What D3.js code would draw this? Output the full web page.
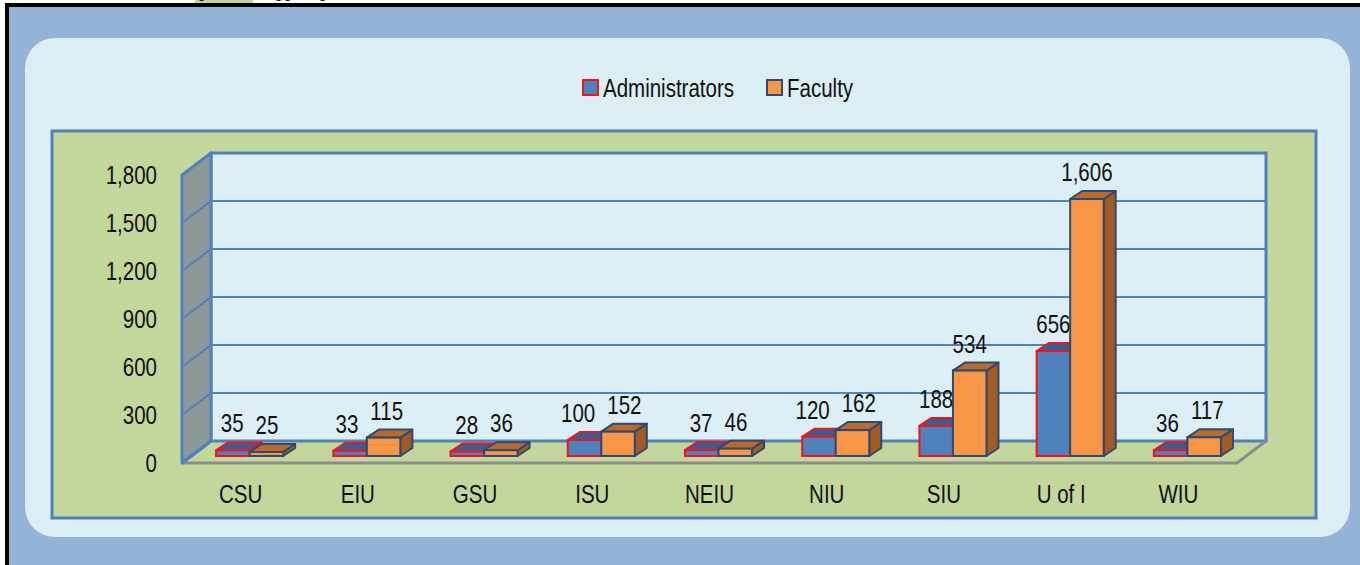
<!DOCTYPE html>
<html>
<head>
<meta charset="utf-8">
<script src="https://cdn.jsdelivr.net/npm/d3@7"></script>
<style>
  body { margin: 0; background: #fff; }
  svg text { font-family: "Liberation Sans Narrow", "Liberation Sans", Arial, sans-serif; fill: #111; }
</style>
</head>
<body>
<script>
const categories = ['CSU', 'EIU', 'GSU', 'ISU', 'NEIU', 'NIU', 'SIU', 'U of I', 'WIU'];
const series = ['Administrators', 'Faculty'];
const administrators = [35, 33, 28, 100, 37, 120, 188, 656, 36];
const faculty = [25, 115, 36, 152, 46, 162, 534, 1606, 117];
const yTicks = [0, 300, 600, 900, 1200, 1500, 1800];

const width = 1360;
const height = 565;

// floor / walls geometry (front edge and 3d depth offset)
const plot = { left: 182, right: 1237, bottom: 463, top: 175 };
const depth = { dx: 29, dy: 22 };
const bar = { shiftX: 9, shiftY: 7, dx: 12, dy: 8 };
const narrow = 0.82;

const colors = {
  Administrators: { front: '#4F81BD', top: '#3A5E8E', side: '#2E4B72', stroke: '#F0141E' },
  Faculty: { front: '#F79646', top: '#B96A30', side: '#A25B26', stroke: '#2F4A6E' },
};

const svg = d3.select('body').append('svg')
  .attr('width', width)
  .attr('height', height);

// page background and frame
svg.append('rect').attr('x', 5).attr('y', 3).attr('width', width - 5).attr('height', height - 3)
  .attr('fill', '#95B3D7');
svg.append('rect').attr('x', 195).attr('y', 0).attr('width', 58).attr('height', 3).attr('fill', '#C3D69B');
[[197, 'g'], [274, 'gg'], [318, 'g']].forEach(([x, t]) => {
  svg.append('text').attr('x', x).attr('y', -3).style('font-size', '20px').text(t);
});
svg.append('rect').attr('x', 5).attr('y', 3).attr('width', width - 5).attr('height', 4).attr('fill', '#000');
svg.append('rect').attr('x', 5).attr('y', 3).attr('width', 4).attr('height', height - 3).attr('fill', '#000');

// rounded chart box
svg.append('rect').attr('x', 25).attr('y', 38).attr('width', 1325).attr('height', 499)
  .attr('rx', 30).attr('fill', '#DAEEF3');

// plot area
svg.append('rect').attr('x', 52).attr('y', 131).attr('width', 1264).attr('height', 387)
  .attr('fill', '#C3D69B').attr('stroke', '#4F81BD').attr('stroke-width', 3);

const x = d3.scaleBand().domain(categories).range([plot.left, plot.right]);
const y = d3.scaleLinear().domain([0, 1800]).range([plot.bottom, plot.top]);
const xs = d3.scaleBand().domain(series).range([0, x.bandwidth() * 0.572]);

// back wall
const backG = svg.append('g');
backG.append('rect')
  .attr('x', plot.left + depth.dx).attr('y', y(1800) - depth.dy)
  .attr('width', plot.right - plot.left).attr('height', y(0) - y(1800))
  .attr('fill', '#DCEEF6').attr('stroke', '#4F81BD').attr('stroke-width', 3);

// left wall
backG.append('path')
  .attr('d', `M${plot.left},${y(0)} L${plot.left + depth.dx},${y(0) - depth.dy} L${plot.left + depth.dx},${y(1800) - depth.dy} L${plot.left},${y(1800)} Z`)
  .attr('fill', '#8D9898').attr('stroke', '#4F81BD').attr('stroke-width', 3).attr('stroke-linejoin', 'round');

// gridlines
backG.selectAll('.grid').data(yTicks.slice(1, -1)).enter().append('path')
  .attr('class', 'grid')
  .attr('d', d => `M${plot.left},${y(d)} L${plot.left + depth.dx},${y(d) - depth.dy} L${plot.right + depth.dx},${y(d) - depth.dy}`)
  .attr('fill', 'none').attr('stroke', '#4F81BD').attr('stroke-width', 2);

// floor edges
backG.append('path')
  .attr('d', `M${plot.left},${y(0)} L${plot.right},${y(0)} L${plot.right + depth.dx},${y(0) - depth.dy}`)
  .attr('fill', 'none').attr('stroke', '#8C8C8C').attr('stroke-width', 3);
backG.append('path')
  .attr('d', `M${plot.left},${y(0)} L${plot.left + depth.dx},${y(0) - depth.dy}`)
  .attr('stroke', '#4F81BD').attr('stroke-width', 3);

// bars
const rows = categories.map((c, i) => ({ cat: c, values: [administrators[i], faculty[i]] }));
const barsG = svg.append('g');
const labelG = svg.append('g');

rows.forEach((row) => {
  const pairStart = x(row.cat) + x.bandwidth() / 2 + bar.shiftX - xs.range()[1] / 2;
  const labels = [];
  series.forEach((s, j) => {
    const v = row.values[j];
    const c = colors[s];
    const x0 = pairStart + xs(s);
    const x1 = x0 + xs.bandwidth();
    const yb = y(0) - bar.shiftY;
    const yt = y(v) - bar.shiftY;
    const g = barsG.append('g');
    g.append('path')
      .attr('d', `M${x1},${yb} L${x1 + bar.dx},${yb - bar.dy} L${x1 + bar.dx},${yt - bar.dy} L${x1},${yt} Z`)
      .attr('fill', c.side).attr('stroke', c.stroke).attr('stroke-width', 2).attr('stroke-linejoin', 'round');
    g.append('path')
      .attr('d', `M${x0},${yt} L${x0 + bar.dx},${yt - bar.dy} L${x1 + bar.dx},${yt - bar.dy} L${x1},${yt} Z`)
      .attr('fill', c.top).attr('stroke', c.stroke).attr('stroke-width', 2).attr('stroke-linejoin', 'round');
    g.append('rect')
      .attr('x', x0).attr('y', yt).attr('width', x1 - x0).attr('height', yb - yt)
      .attr('fill', c.front).attr('stroke', c.stroke).attr('stroke-width', 2);
    const ly = yt - bar.dy - 10;
    const t = labelG.append('text')
      .attr('class', 'value')
      .attr('x', (x0 + x1) / 2)
      .attr('y', ly)
      .attr('text-anchor', 'middle')
      .style('font-size', '25px')
      .text(d3.format(',')(v));
    labels.push({ node: t.node(), cx: (x0 + x1) / 2, y: ly, w: t.node().getComputedTextLength() * narrow });
  });
  // push the two value labels apart when they would touch
  const [a, b] = labels;
  const need = (a.w + b.w) / 2 + 12;
  const gap = b.cx - a.cx;
  if (gap < need && Math.abs(a.y - b.y) < 24) {
    const shift = (need - gap) / 2;
    d3.select(a.node).attr('x', a.cx - shift);
    d3.select(b.node).attr('x', b.cx + shift);
  }
});

// axes (labels only)
const yAxis = svg.append('g')
  .attr('transform', `translate(${plot.left},0)`)
  .call(d3.axisLeft(y).tickValues(yTicks).tickFormat(d3.format(',')).tickSize(0).tickPadding(25));
const xAxis = svg.append('g')
  .attr('transform', `translate(0,${plot.bottom})`)
  .call(d3.axisBottom(x).tickSize(0).tickPadding(22));
[yAxis, xAxis].forEach((a) => {
  a.select('.domain').remove();
  a.selectAll('text').attr('fill', '#111').style('font-size', '25px')
    .style('font-family', '"Liberation Sans Narrow", "Liberation Sans", Arial, sans-serif');
});

// legend
const legend = svg.append('g');
const legendItems = [
  { name: 'Administrators', x: 583 },
  { name: 'Faculty', x: 767 },
];
legendItems.forEach((it) => {
  legend.append('rect').attr('x', it.x).attr('y', 80).attr('width', 15).attr('height', 15)
    .attr('fill', colors[it.name].front).attr('stroke', colors[it.name].stroke).attr('stroke-width', 2);
  legend.append('text').attr('x', it.x + 20).attr('y', 97).style('font-size', '25px').text(it.name);
});

// narrow the glyphs like Arial Narrow
svg.selectAll('text').each(function () {
  const len = this.getComputedTextLength();
  if (len > 0) {
    d3.select(this).attr('textLength', len * narrow).attr('lengthAdjust', 'spacingAndGlyphs');
  }
});
</script>
</body>
</html>
